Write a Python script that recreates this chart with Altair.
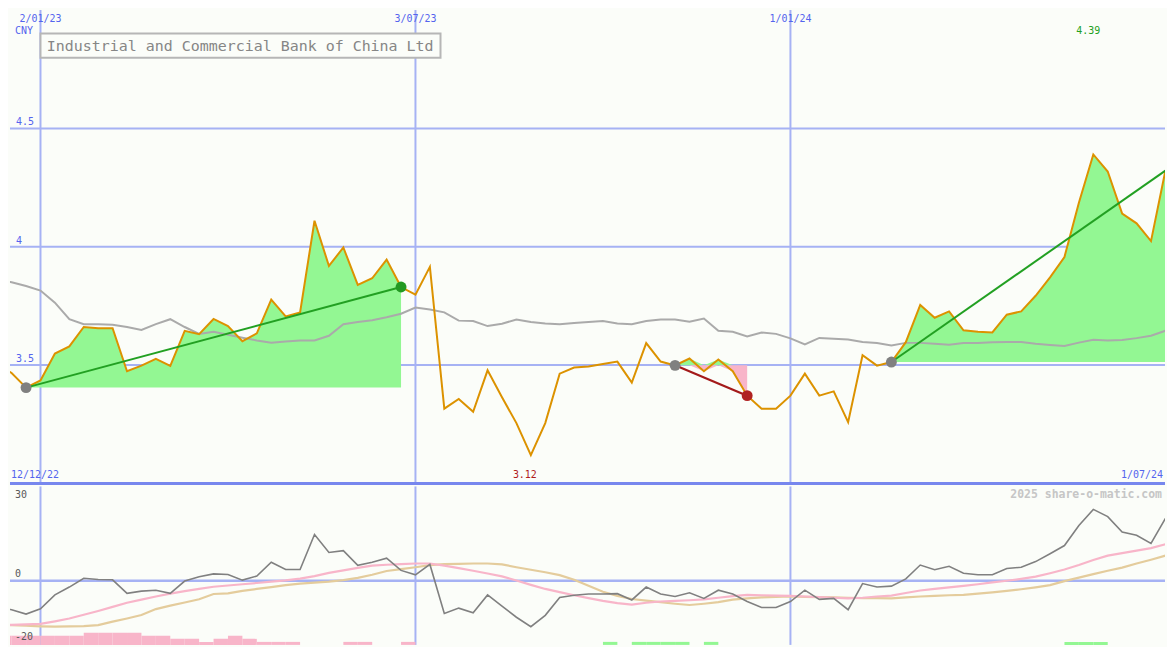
import altair as alt
import pandas as pd

# ---------------- data (weekly) ----------------
FIRST_DAY = -21   # 12/12/22, counted in days from 2/01/23
WEEK = 7

price = [3.50, 3.467, 3.405, 3.435, 3.549, 3.579, 3.661, 3.656, 3.656, 3.474,
         3.498, 3.526, 3.497, 3.645, 3.631, 3.695, 3.665, 3.601, 3.634, 3.777,
         3.706, 3.723, 4.110, 3.919, 3.997, 3.839, 3.867, 3.946, 3.830, 3.798,
         3.915, 3.316, 3.357, 3.303, 3.478, 3.364, 3.255, 3.120, 3.255, 3.464,
         3.490, 3.494, 3.505, 3.515, 3.426, 3.593, 3.515, 3.499, 3.528, 3.474,
         3.524, 3.474, 3.371, 3.316, 3.316, 3.371, 3.464, 3.371, 3.389, 3.259,
         3.542, 3.498, 3.513, 3.597, 3.754, 3.700, 3.727, 3.647, 3.641, 3.638,
         3.713, 3.727, 3.793, 3.871, 3.957, 4.186, 4.390, 4.318, 4.140, 4.099,
         4.024, 4.322]

ma_price = [3.862, 3.850, 3.834, 3.815, 3.764, 3.694, 3.673, 3.673, 3.671, 3.661,
            3.649, 3.673, 3.694, 3.661, 3.632, 3.641, 3.628, 3.616, 3.604, 3.595,
            3.600, 3.604, 3.604, 3.624, 3.673, 3.682, 3.690, 3.702, 3.717, 3.743,
            3.735, 3.723, 3.688, 3.686, 3.665, 3.675, 3.693, 3.682, 3.676, 3.673,
            3.678, 3.682, 3.686, 3.676, 3.673, 3.686, 3.693, 3.693, 3.683, 3.697,
            3.645, 3.641, 3.621, 3.638, 3.632, 3.613, 3.587, 3.615, 3.611, 3.608,
            3.598, 3.593, 3.583, 3.594, 3.594, 3.590, 3.586, 3.593, 3.593, 3.597,
            3.598, 3.598, 3.590, 3.585, 3.581, 3.595, 3.607, 3.604, 3.606, 3.614,
            3.624, 3.645]

osc = [-8.5, -9.2, -10.6, -8.9, -4.5, -2.0, 0.8, 0.4, 0.3, -4.0,
       -3.3, -3.0, -4.0, -0.1, 1.3, 2.2, 2.0, 0.2, 1.5, 5.9,
       3.6, 3.6, 14.7, 9.0, 9.6, 4.9, 5.9, 7.2, 3.3, 1.9,
       5.2, -10.4, -8.7, -10.2, -4.5, -8.1, -11.6, -14.6, -11.0, -5.3,
       -4.6, -4.2, -4.2, -4.1, -6.1, -2.0, -4.2, -5.0, -3.8, -5.6,
       -3.0, -4.2, -6.6, -8.5, -8.5, -6.6, -3.0, -5.9, -5.6, -9.2,
       -0.9, -2.0, -1.7, 0.6, 5.0, 3.5, 4.6, 2.4, 1.9, 1.9,
       3.9, 4.3, 6.1, 8.6, 11.2, 17.6, 22.7, 20.4, 15.5, 14.5,
       11.9, 19.8]

osc_fast = [-14.2, -14.0, -13.9, -13.7, -12.9, -12.0, -10.8, -9.6, -8.3, -7.0,
            -6.0, -5.0, -4.1, -3.3, -2.6, -1.9, -1.5, -1.1, -0.7, -0.3,
            0.1, 0.7, 1.5, 2.5, 3.3, 4.1, 4.8, 5.1, 5.3, 5.5,
            5.5, 4.8, 4.0, 3.2, 2.3, 1.4, 0.1, -1.3, -2.6, -3.6,
            -4.6, -5.5, -6.4, -7.1, -7.6, -7.0, -6.6, -6.4, -6.2, -5.9,
            -5.4, -4.9, -4.5, -4.6, -4.7, -4.8, -5.0, -5.2, -5.4, -5.6,
            -5.4, -5.0, -4.7, -3.9, -3.1, -2.6, -2.1, -1.6, -1.1, -0.5,
            0.0, 0.6, 1.3, 2.4, 3.6, 5.0, 6.6, 8.0, 8.8, 9.6,
            10.4, 11.6]

osc_slow = [-14.0, -14.1, -14.3, -14.5, -14.6, -14.5, -14.4, -14.1, -13.0, -12.0,
            -10.9, -9.0, -7.9, -6.9, -5.9, -4.2, -4.0, -3.2, -2.6, -2.0,
            -1.4, -0.9, -0.6, -0.3, 0.2, 0.9, 1.9, 3.1, 3.7, 4.3,
            5.0, 5.3, 5.4, 5.5, 5.5, 5.2, 4.3, 3.5, 2.7, 1.8,
            0.3, -1.6, -3.5, -4.8, -5.8, -6.3, -6.8, -7.3, -7.7, -7.3,
            -6.8, -6.0, -5.6, -5.3, -5.1, -5.0, -5.1, -5.2, -5.3, -5.4,
            -5.5, -5.5, -5.6, -5.3, -5.0, -4.8, -4.6, -4.5, -4.1, -3.7,
            -3.2, -2.7, -2.1, -1.4, -0.1, 1.0, 2.1, 3.2, 4.2, 5.5,
            6.7, 8.0]

hist_level = ([-3] * 6 + [-4] * 4 + [-3] * 2 + [-2] * 2 + [-1, -2, -3, -2] + [-1] * 3
              + [0] * 3 + [-1] * 2 + [0] * 2 + [-1] + [0] * 13 + [1, 0] + [1] * 4
              + [0, 1] + [0] * 24 + [1] * 3 + [0] * 5)

grid_days = [0, 182, 364]
grid_labels = ["2/01/23", "3/07/23", "1/01/24"]
price_ticks = [3.5, 4.0, 4.5]
price_tick_labels = ["3.5", "4", "4.5"]
osc_ticks = [30, 0, -20]
osc_tick_labels = ["30", "0", "-20"]

# trend segments: (start week, end week)
segments = [(2, 28), (47, 52), (62, 81)]

# ---------------- styling ----------------
W, H1, H2 = 1159, 475, 159
BG = "#fbfdf9"
GRID = "#a6b2f4"
DIVIDER = "#7787ee"
BLUE_TXT = "#5464ee"
PRICE_C = "#dc9200"
FILL_G = "#93f793"
FILL_P = "#f8b5c9"
MA_C = "#aaaaaa"
TREND_G = "#22a022"
TREND_R = "#a31a1a"
FONT = "DejaVu Sans Mono"
LOW_MIN, LOW_MAX = -20.4, 30.0

XS = alt.Scale(domain=[-14.8, 545.8], nice=False, zero=False)
YU = alt.Scale(domain=[3.0, 5.0], nice=False, zero=False)
YL = alt.Scale(domain=[LOW_MIN, LOW_MAX], nice=False, zero=False)

N = len(price)
days = [FIRST_DAY + WEEK * i for i in range(N)]
df = pd.DataFrame({"day": days, "price": price, "ma": ma_price, "osc": osc,
                   "fast": osc_fast, "slow": osc_slow, "lvl": hist_level})

fill_rows, trend_rows, dot_rows = [], [], []
for k, (s, e) in enumerate(segments):
    base = price[s]
    kind = "up" if price[e] >= base else "down"
    for i in range(s, e + 1):
        fill_rows.append({"seg": k, "day": days[i], "base": base,
                          "hi": max(price[i], base), "lo": min(price[i], base)})
    trend_rows.append({"seg": k, "kind": kind, "day": days[s], "price": base})
    trend_rows.append({"seg": k, "kind": kind, "day": days[e], "price": price[e]})
    dot_rows.append({"kind": "start", "day": days[s], "price": base})
    if e < N - 1:
        dot_rows.append({"kind": kind, "day": days[e], "price": price[e]})
fill_df = pd.DataFrame(fill_rows)
trend_df = pd.DataFrame(trend_rows)
dot_df = pd.DataFrame(dot_rows)

hist_df = df[df["lvl"] != 0].copy()
hist_df["day_end"] = hist_df["day"] + WEEK
hist_df["top"] = LOW_MIN + hist_df["lvl"].abs() * 0.96
hist_df["bottom"] = LOW_MIN

vgrid_df = pd.DataFrame({"day": grid_days, "label": grid_labels})
hgrid_df = pd.DataFrame({"y": price_ticks, "label": price_tick_labels})
one = pd.DataFrame({"a": [0]})

X = alt.X("day:Q", scale=XS, axis=None)


def YUp(f):
    return alt.Y(f, scale=YU, axis=None)


def YLo(f):
    return alt.Y(f, scale=YL, axis=None)


def txt(text, x, y, color, size=10, align="left", weight="normal"):
    return alt.Chart(one).mark_text(font=FONT, fontSize=size, color=color, align=align,
                                    baseline="middle", text=text, fontWeight=weight).encode(
        x=alt.value(x), y=alt.value(y))


# ---------------- upper panel ----------------
vgrid_u = alt.Chart(vgrid_df).mark_rule(color=GRID, strokeWidth=2).encode(x=X)
hgrid_u = alt.Chart(hgrid_df).mark_rule(color=GRID, strokeWidth=2).encode(y=YUp("y:Q"))
divider = alt.Chart(one).mark_rule(color=DIVIDER, strokeWidth=3).encode(
    x=alt.value(0), x2=alt.value(W), y=alt.value(H1))

fill_up = alt.Chart(fill_df).mark_area(color=FILL_G, clip=True, opacity=1).encode(
    x=X, y=YUp("hi:Q"), y2="base:Q", detail="seg:N")
fill_dn = alt.Chart(fill_df).mark_area(color=FILL_P, clip=True, opacity=1).encode(
    x=X, y=YUp("lo:Q"), y2="base:Q", detail="seg:N")

ma_line = alt.Chart(df).mark_line(color=MA_C, strokeWidth=2, clip=True).encode(
    x=X, y=YUp("ma:Q"))
price_line = alt.Chart(df).mark_line(color=PRICE_C, strokeWidth=2, clip=True).encode(
    x=X, y=YUp("price:Q"))
trend_up = alt.Chart(trend_df[trend_df["kind"] == "up"]).mark_line(
    strokeWidth=2, clip=True, color=TREND_G).encode(x=X, y=YUp("price:Q"), detail="seg:N")
trend_dn = alt.Chart(trend_df[trend_df["kind"] == "down"]).mark_line(
    strokeWidth=2.2, clip=True, color=TREND_R).encode(x=X, y=YUp("price:Q"), detail="seg:N")
dot_layers = []
for kind, col in [("start", "#808080"), ("up", "#229922"), ("down", "#b02222")]:
    dot_layers.append(alt.Chart(dot_df[dot_df["kind"] == kind]).mark_circle(
        size=120, opacity=1, color=col).encode(x=X, y=YUp("price:Q")))

top_dates = alt.Chart(vgrid_df).mark_text(font=FONT, fontSize=10, color=BLUE_TXT,
                                          baseline="middle", align="center").encode(
    x=X, y=alt.value(8.8), text="label:N")
title_box = alt.Chart(one).mark_rect(fill=BG, stroke="#b6b6b6", strokeWidth=2).encode(
    x=alt.value(30.6), x2=alt.value(432), y=alt.value(23.6), y2=alt.value(47.8))
title_txt = txt("Industrial and Commercial Bank of China Ltd", 37, 36, "#868686", size=15)
cny = txt("CNY", 5, 20.5, BLUE_TXT)
ytick_txt = alt.Chart(hgrid_df).mark_text(font=FONT, fontSize=10, color=BLUE_TXT, align="left",
                                          baseline="middle", dy=-6).encode(
    x=alt.value(6), y=YUp("y:Q"), text="label:N")

imax = price.index(max(price))
imin = price.index(min(price))
max_df = pd.DataFrame({"day": [days[imax]], "label": [f"{max(price):.2f}"]})
min_df = pd.DataFrame({"day": [days[imin]], "label": [f"{min(price):.2f}"]})
max_txt = alt.Chart(max_df).mark_text(font=FONT, fontSize=10, align="center", color="#22a022",
                                      baseline="middle", dx=-5).encode(
    x=X, y=alt.value(20.5), text="label:N")
min_txt = alt.Chart(min_df).mark_text(font=FONT, fontSize=10, align="center", color="#b01c1c",
                                      baseline="middle", dx=-6).encode(
    x=X, y=alt.value(467), text="label:N")
edge_l = txt("12/12/22", 1, 467, BLUE_TXT)
edge_r = txt("1/07/24", 1157, 467, BLUE_TXT, align="right")

upper = alt.layer(vgrid_u, hgrid_u, fill_up, fill_dn, ma_line, price_line, trend_up, trend_dn,
                  *dot_layers, divider, top_dates, title_box, title_txt, cny, ytick_txt,
                  max_txt, min_txt, edge_l, edge_r).properties(width=W, height=H1)

# ---------------- lower panel ----------------
vgrid_l = alt.Chart(vgrid_df).mark_rule(color=GRID, strokeWidth=2).encode(x=X)
zero_l = alt.Chart(pd.DataFrame({"y": [0.0]})).mark_rule(color=GRID, strokeWidth=2.5).encode(
    y=YLo("y:Q"))
bars_neg = alt.Chart(hist_df[hist_df["lvl"] < 0]).mark_rect(clip=True, color=FILL_P).encode(
    x=X, x2="day_end:Q", y=YLo("top:Q"), y2="bottom:Q")
bars_pos = alt.Chart(hist_df[hist_df["lvl"] > 0]).mark_rect(clip=True, color=FILL_G).encode(
    x=X, x2="day_end:Q", y=YLo("top:Q"), y2="bottom:Q")
slow_line = alt.Chart(df).mark_line(color="#e4cc9c", strokeWidth=2.2, clip=True).encode(
    x=X, y=YLo("slow:Q"))
fast_line = alt.Chart(df).mark_line(color="#f8b5c9", strokeWidth=2.2, clip=True).encode(
    x=X, y=YLo("fast:Q"))
osc_line = alt.Chart(df).mark_line(color="#808080", strokeWidth=1.6, clip=True).encode(
    x=X, y=YLo("osc:Q"))
lab30 = txt(osc_tick_labels[0], 5, 8.8, "#5a5a5a")
lab0 = txt(osc_tick_labels[1], 5, 88.3, "#5a5a5a")
lab20 = txt(osc_tick_labels[2], 5, 151.5, "#5a5a5a")
water = txt("2025 share-o-matic.com", 1156, 8.8, "#c6c6c6", size=11.5, align="right",
            weight="bold")

lower = alt.layer(vgrid_l, zero_l, bars_neg, bars_pos, slow_line, fast_line, osc_line,
                  lab30, lab0, lab20, water).properties(width=W, height=H2)

chart = alt.vconcat(upper, lower, spacing=0).resolve_scale(
    x="independent", y="independent").properties(
    padding=0, background=BG).configure_view(strokeWidth=0)

chart.save("out.html", embed_options={"renderer": "svg", "actions": False})
